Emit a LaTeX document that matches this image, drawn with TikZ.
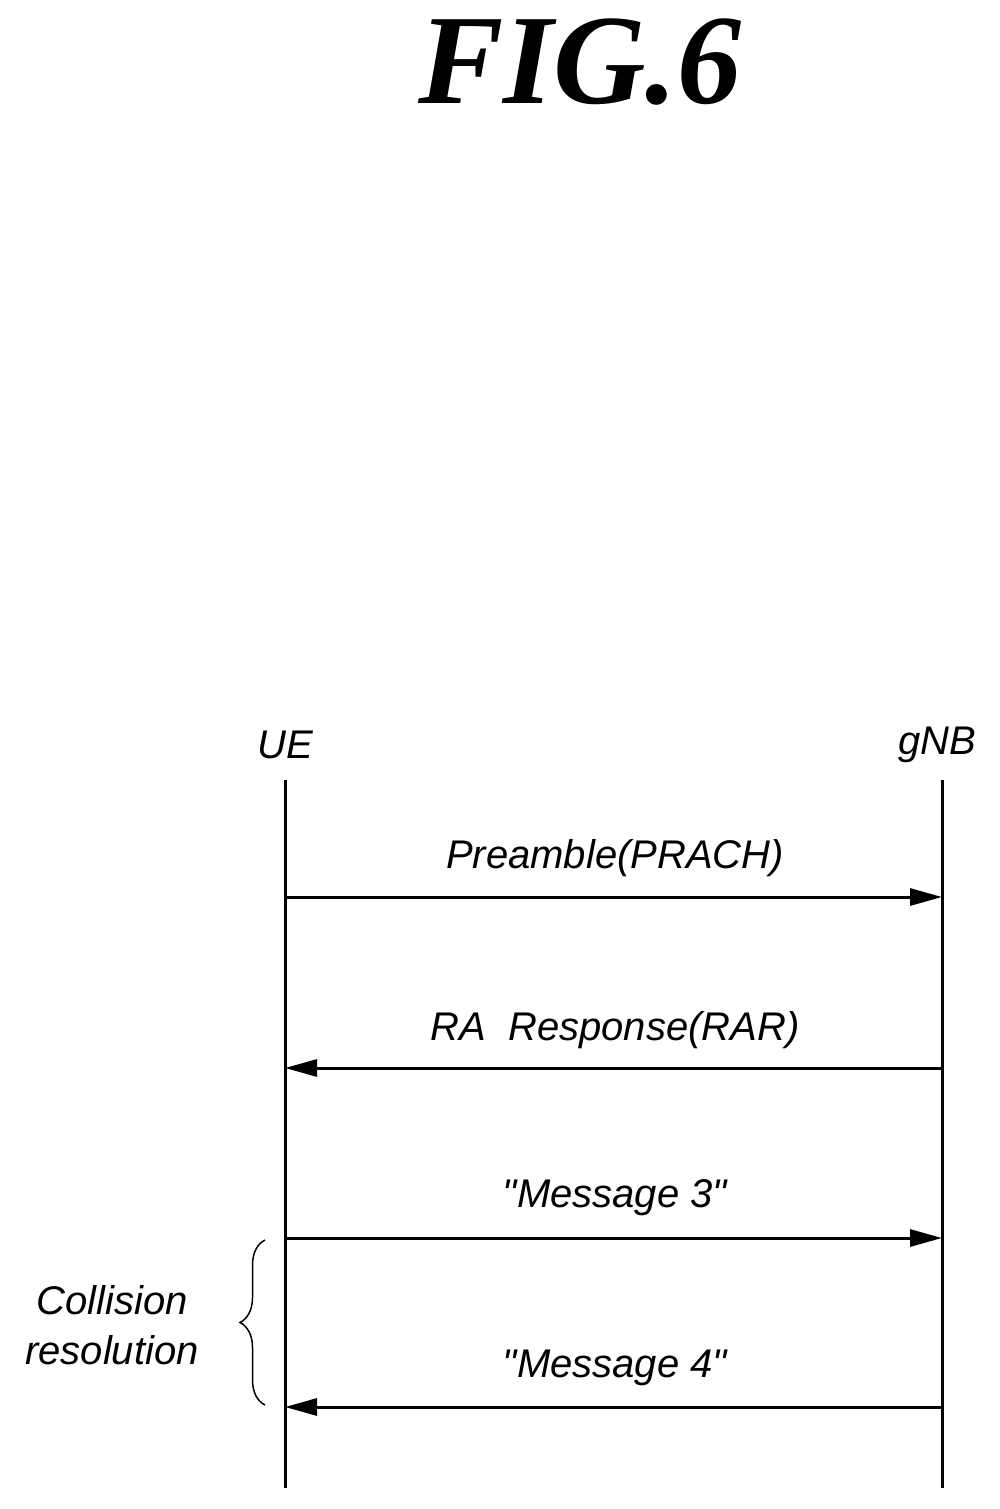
\documentclass[tikz,border=0pt]{standalone}
\usepackage{fontspec}
\setmainfont{Liberation Serif}
\newfontfamily\lblfont{Liberation Sans}
\usetikzlibrary{arrows.meta,decorations.pathreplacing}
\begin{document}
\begin{tikzpicture}[x=1pt,y=-1pt,
  lbl/.style={font=\lblfont\itshape\fontsize{40}{50}\selectfont,inner sep=0pt},
  life/.style={line width=3pt},
  msg/.style={line width=3pt,-{Triangle[length=32pt,width=17pt]}}]
\useasboundingbox (0,0) rectangle (999,1509);
\node[font=\bfseries\itshape\fontsize{128}{130}\selectfont,inner sep=0pt] (title) at (580,62) {FIG.6};
\node[lbl] (ue) at (285,745) {UE};
\node[lbl] (gnb) at (937,745) {gNB};
\coordinate (uetop) at (285,780); \coordinate (uebot) at (285,1488);
\coordinate (gtop) at (942,780); \coordinate (gbot) at (942,1488);
\draw[life] (uetop) -- (uebot);
\draw[life] (gtop) -- (gbot);
\coordinate (u1) at (285,897); \coordinate (g1) at (942,897);
\coordinate (u2) at (285,1068); \coordinate (g2) at (942,1068);
\coordinate (u3) at (285,1238); \coordinate (g3) at (942,1238);
\coordinate (u4) at (285,1407); \coordinate (g4) at (942,1407);
\draw[msg] (u1) -- (g1);
\draw[msg] (g2) -- (u2);
\draw[msg] (u3) -- (g3);
\draw[msg] (g4) -- (u4);
\node[lbl] (m1) at (615,858) {Preamble(PRACH)};
\node[lbl] (m2) at (615,1030) {RA\ \ Response(RAR)};
\node[lbl] (m3) at (615,1198) {"Message 3"};
\node[lbl] (m4) at (615,1368) {"Message 4"};
\coordinate (bt) at (265,1240); \coordinate (bb) at (265,1405);
\draw[line width=1.5pt,decorate,decoration={brace,amplitude=25pt}] (bb) -- (bt);
\node[lbl,align=center] (cr) at (112,1325) {Collision\\resolution};
\end{tikzpicture}
\end{document}
